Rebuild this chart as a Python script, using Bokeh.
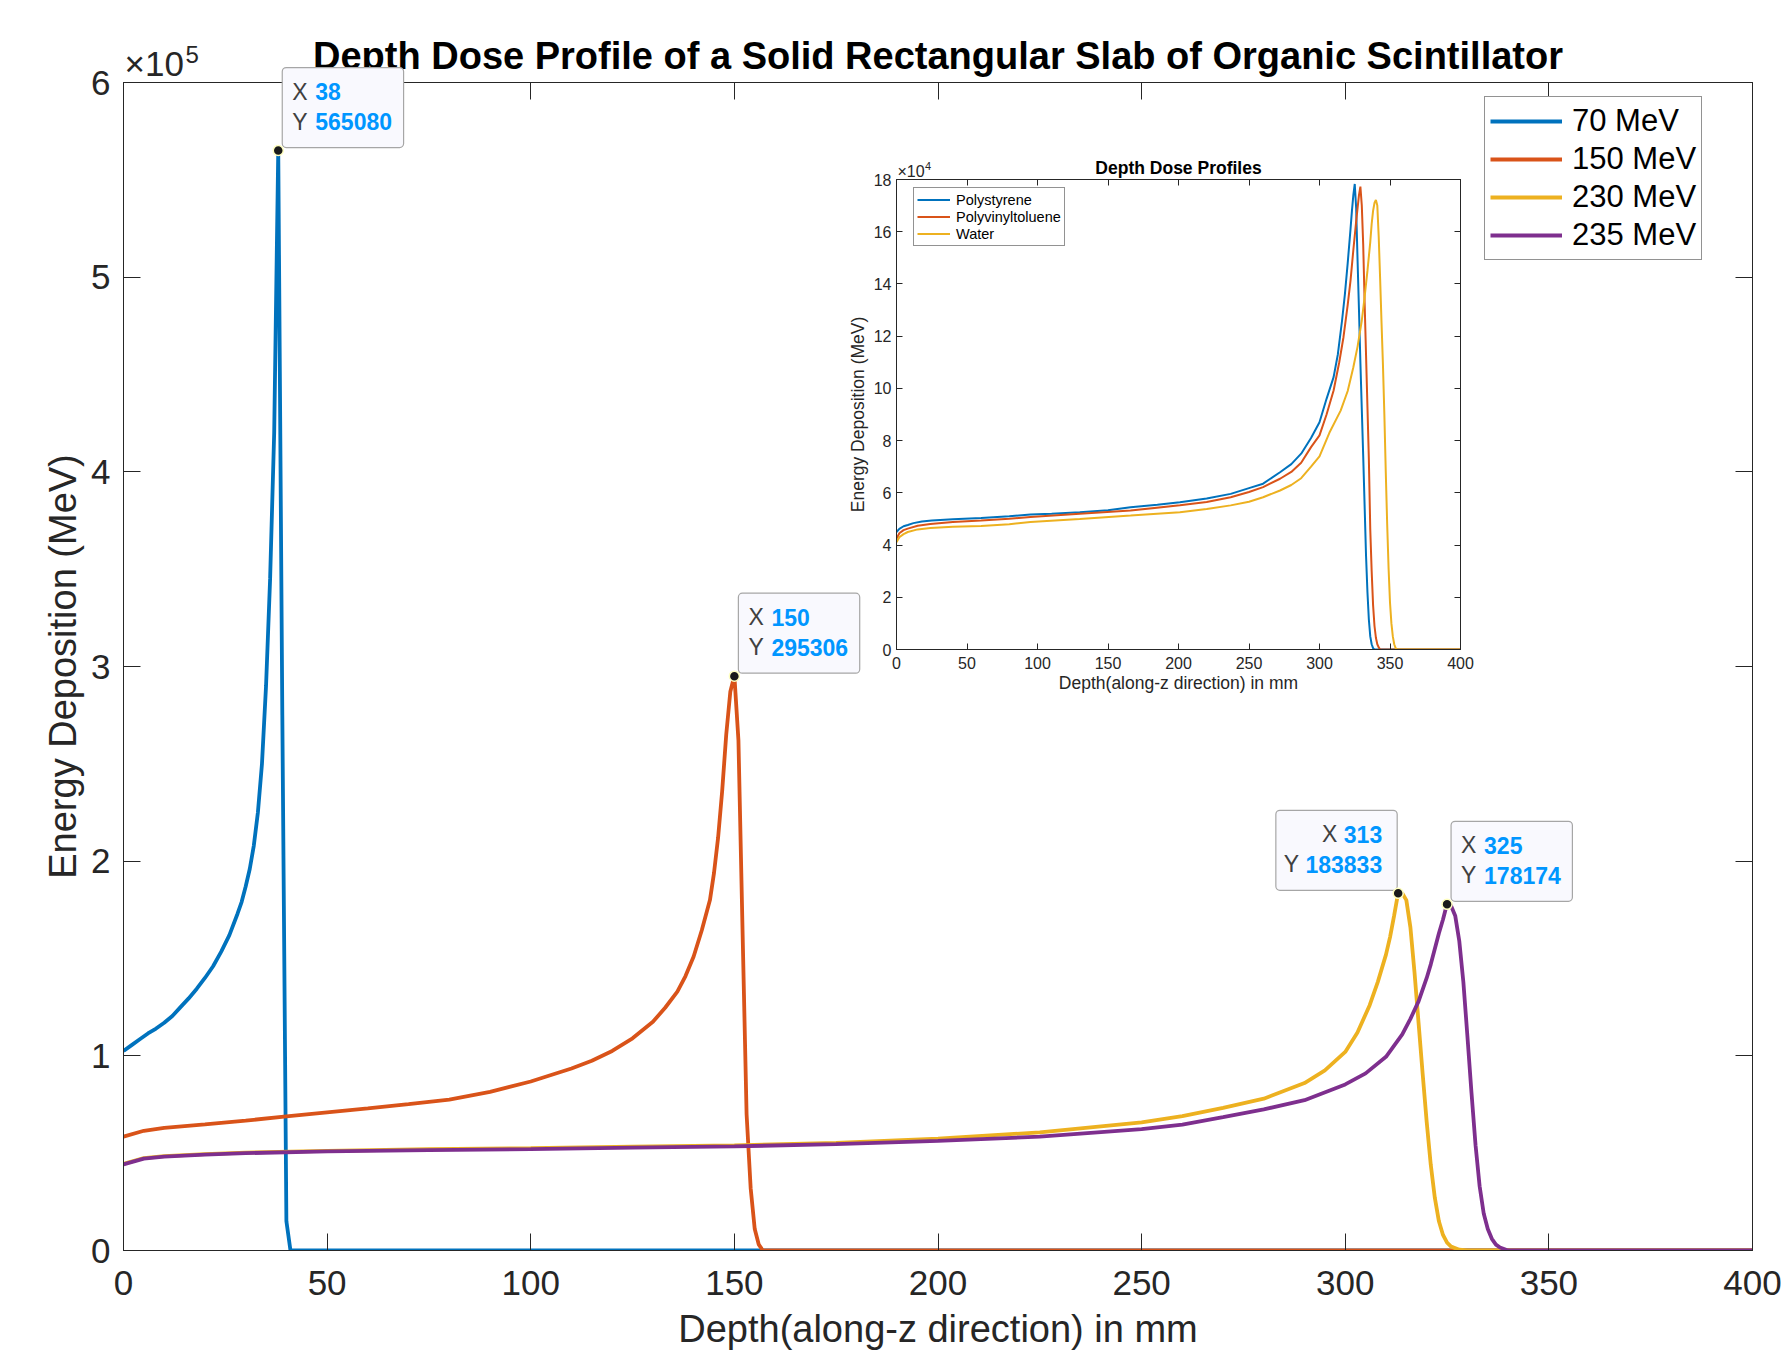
from bokeh.plotting import figure
from bokeh.models import (Range1d, FixedTicker, LinearAxis, Legend, LegendItem,
                          Label, GridBox)
from bokeh.embed import file_html
from bokeh.resources import INLINE

# ---------------- data (main chart) ----------------
energies = ["70 MeV", "150 MeV", "230 MeV", "235 MeV"]

depth_70 = [0, 2, 4, 6, 8, 10, 12, 14, 16, 18, 20, 22, 24, 26, 28, 29, 30, 31, 32, 33,
            34, 35, 36, 37, 38, 39, 40, 41, 400]
dose_70 = [102500, 105500, 108500, 111500, 114000, 117000, 120500, 125000, 129500, 134500,
           140000, 146000, 153500, 162000, 173000, 179000, 187000, 196000, 208000, 225000,
           250000, 290000, 345000, 420000, 565080, 275000, 15000, 0, 0]

depth_150 = [0, 5, 10, 20, 30, 40, 50, 60, 70, 80, 90, 100, 110, 115, 120, 125, 130, 133,
             136, 138, 140, 142, 144, 145, 146, 147, 148, 149, 150, 151, 152, 153, 154, 155,
             156, 157, 400]
dose_150 = [58500, 61500, 63000, 64800, 66700, 68900, 71000, 73000, 75200, 77500, 81500,
            86800, 93500, 97500, 102500, 109000, 117500, 124700, 133000, 141000, 151000,
            164500, 180000, 194000, 212000, 236000, 265000, 287000, 295306, 262000, 165000,
            70000, 32000, 11000, 3000, 0, 0]

depth_230 = [0, 5, 10, 20, 30, 50, 75, 100, 125, 150, 175, 200, 225, 250, 260, 270, 280,
             290, 295, 300, 303, 306, 308, 310, 311, 312, 313, 314, 315, 316, 317, 318, 319,
             320, 321, 322, 323, 324, 325, 326, 328, 330, 400]
dose_230 = [44500, 47500, 48500, 49500, 50300, 51200, 52000, 52600, 53300, 54000, 55300,
            57500, 60700, 65800, 69000, 73300, 78000, 86000, 92500, 102000, 112000, 126000,
            138000, 152000, 161000, 172000, 183833, 183500, 180000, 166000, 143000, 117000,
            91000, 66000, 44000, 27000, 15000, 8000, 4000, 2000, 400, 0, 0]

depth_235 = [0, 5, 10, 20, 30, 50, 75, 100, 125, 150, 175, 200, 225, 250, 260, 270, 280,
             290, 300, 305, 310, 314, 316, 318, 320, 321, 322, 323, 324, 325, 326, 327, 328,
             329, 330, 331, 332, 333, 334, 335, 336, 337, 338, 340, 400]
dose_235 = [44200, 47200, 48200, 49200, 50000, 50900, 51600, 52100, 52800, 53500, 54600,
            56300, 58500, 62300, 64700, 68500, 72500, 77200, 85300, 91000, 99500, 111000,
            119000, 128000, 140000, 147000, 155000, 163000, 170000, 178174, 177000, 172000,
            159000, 138000, 110000, 81000, 54000, 33000, 19000, 11000, 6000, 3000, 1500, 0, 0]

tip_x = [38, 150, 313, 325]
tip_y = [565080, 295306, 183833, 178174]

x_ticks = [0, 50, 100, 150, 200, 250, 300, 350, 400]
y_ticks = [0, 100000, 200000, 300000, 400000, 500000, 600000]
y_tick_labels = ["0", "1", "2", "3", "4", "5", "6"]

# ---------------- data (inset) ----------------
materials = ["Polystyrene", "Polyvinyltoluene", "Water"]

inset_depth_ps = [0, 2, 5, 8, 12, 18, 25, 40, 60, 80, 95, 110, 130, 150, 166, 185, 201, 220,
                  237, 250, 260, 272, 280, 287, 294, 300, 305, 310, 313, 316, 318, 320, 322,
                  323, 324, 325, 326, 327, 328, 329, 330, 331, 332, 333, 334, 335, 336, 337,
                  338, 339, 400]
inset_ps = [45000, 46200, 47200, 47700, 48400, 49000, 49400, 49900, 50400, 51000, 51700,
            52000, 52600, 53300, 54500, 55400, 56400, 57800, 59600, 61800, 63500, 67900,
            71000, 75000, 81000, 87000, 96000, 104300, 113000, 126000, 136000, 148000,
            161000, 168000, 174000, 178300, 169000, 149000, 130000, 110000, 92000, 74000,
            55000, 36000, 22000, 11500, 5000, 2000, 500, 0, 0]

inset_depth_pvt = [0, 2, 5, 8, 15, 24, 40, 60, 80, 95, 130, 166, 201, 220, 237, 250, 260,
                   272, 280, 287, 294, 300, 305, 310, 314, 317, 320, 322, 324, 326, 327, 328,
                   329, 330, 331, 332, 333, 334, 335, 336, 337, 338, 339, 340, 341, 342, 343,
                   400]
inset_pvt = [42400, 44500, 45700, 46300, 47400, 48100, 48800, 49400, 50100, 50700, 52000,
             53200, 55200, 56500, 58300, 60300, 62200, 65400, 68000, 71500, 77500, 82000,
             90000, 99200, 110000, 119600, 132000, 141300, 153000, 164000, 169000, 174000,
             177300, 170000, 155000, 133000, 113000, 93000, 73000, 46000, 30000, 17000, 9000,
             4500, 2000, 800, 0, 0]

inset_depth_w = [0, 2, 5, 8, 15, 24, 40, 60, 80, 95, 130, 166, 201, 220, 237, 250, 260, 272,
                 280, 287, 294, 300, 307, 315, 320, 324, 327, 330, 332, 334, 336, 337, 338,
                 339, 340, 341, 342, 343, 344, 345, 346, 347, 348, 349, 350, 351, 352, 353,
                 354, 355, 400]
inset_w = [41100, 43000, 44200, 45000, 46000, 46500, 47000, 47300, 48000, 48800, 50000,
           51300, 52600, 53800, 55200, 56600, 58300, 60900, 63000, 65600, 70000, 74000,
           83000, 91500, 99000, 108100, 116000, 126000, 135000, 145000, 156000, 163000,
           168000, 171000, 172200, 170000, 158000, 142000, 125000, 109000, 90000, 68000,
           48000, 31000, 18000, 10000, 5000, 2000, 500, 0, 0]

inset_y_ticks = [0, 20000, 40000, 60000, 80000, 100000, 120000, 140000, 160000, 180000]
inset_y_tick_labels = ["0", "2", "4", "6", "8", "10", "12", "14", "16", "18"]

# ---------------- styles / layout constants ----------------
FONT = "Liberation Sans"
AX = "#262626"
COLORS = ["#0072BD", "#D95319", "#EDB120", "#7E2F8E"]
TIP_BG = "#F9F9FE"
TIP_EDGE = "#A6A6A6"
TIP_VAL = "#0096FF"
TIP_TXT = "#404040"

W, H = 1788, 1352
ML, MR, MT, MB = 123, 36, 82, 101          # main frame borders
X0, X1 = 0, 400
Y0, Y1 = 0, 600000

IW, IH = 650, 565                          # inset figure size
IL, IR, IT, IB = 60, 26, 39, 56            # inset frame borders
INSET_LEFT, INSET_TOP = 836, 140           # inset figure position


def style_axis(ax, fs, tick_in, standoff, labels=True):
    ax.axis_line_color = AX
    ax.axis_line_width = 1
    ax.major_tick_line_color = AX
    ax.major_tick_line_width = 1
    ax.major_tick_in = tick_in
    ax.major_tick_out = 0
    ax.minor_tick_line_color = None
    ax.major_label_text_font = FONT
    if labels:
        ax.major_label_text_color = AX
        ax.major_label_standoff = standoff
        ax.major_label_text_font_size = fs
    else:
        ax.major_label_text_color = None
        ax.major_label_standoff = 0
        ax.major_label_text_font_size = "1px"


# ---------------- main figure ----------------
p = figure(width=W, height=H, x_range=Range1d(X0, X1), y_range=Range1d(Y0, Y1),
           output_backend="svg", toolbar_location=None,
           min_border_left=ML, min_border_right=MR, min_border_top=MT, min_border_bottom=MB,
           x_axis_label="Depth(along-z direction) in mm",
           y_axis_label="Energy Deposition (MeV)")
p.xgrid.grid_line_color = None
p.ygrid.grid_line_color = None
p.outline_line_color = AX
p.outline_line_width = 1
p.background_fill_color = "white"
p.border_fill_color = "white"

p.title.text = "Depth Dose Profile of a Solid Rectangular Slab of Organic Scintillator"
p.title.align = "center"
p.title.text_font = FONT
p.title.text_font_size = "38px"
p.title.text_font_style = "bold"
p.title.text_color = "#000000"
p.title.standoff = 12

p.xaxis.ticker = FixedTicker(ticks=x_ticks)
p.yaxis.ticker = FixedTicker(ticks=y_ticks)
p.yaxis.major_label_overrides = {t: s for t, s in zip(y_ticks, y_tick_labels)}
for ax in p.xaxis:
    style_axis(ax, "35px", 17, 20)
    ax.axis_label_standoff = 10
for ax in p.yaxis:
    style_axis(ax, "35px", 17, 13)
    ax.axis_label_standoff = 4
for ax in list(p.xaxis) + list(p.yaxis):
    ax.axis_label_text_font = FONT
    ax.axis_label_text_font_size = "38px"
    ax.axis_label_text_font_style = "normal"
    ax.axis_label_text_color = AX

top_ax = LinearAxis(ticker=FixedTicker(ticks=x_ticks))
style_axis(top_ax, "35px", 17, 0, labels=False)
p.add_layout(top_ax, "above")
right_ax = LinearAxis(ticker=FixedTicker(ticks=y_ticks))
style_axis(right_ax, "35px", 17, 0, labels=False)
p.add_layout(right_ax, "right")

series = [(depth_70, dose_70), (depth_150, dose_150), (depth_230, dose_230), (depth_235, dose_235)]
renderers = []
for (xs, ys), c in zip(series, COLORS):
    renderers.append(p.line(xs, ys, line_color=c, line_width=3.8))

legend = Legend(items=[LegendItem(label=l, renderers=[r]) for l, r in zip(energies, renderers)],
                location=(1361, 990), orientation="vertical")
legend.label_text_font = FONT
legend.label_text_font_size = "31px"
legend.label_text_color = "#000000"
legend.glyph_width = 72
legend.glyph_height = 38
legend.label_height = 38
legend.label_standoff = 10
legend.padding = 5
legend.spacing = 0
legend.margin = 0
legend.border_line_color = AX
legend.border_line_width = 1
legend.background_fill_color = "white"
legend.background_fill_alpha = 1
p.add_layout(legend)

# ---------------- inset figure ----------------
ins = figure(width=IW, height=IH, x_range=Range1d(0, 400), y_range=Range1d(0, 180000),
             output_backend="svg", toolbar_location=None,
             min_border_left=IL, min_border_right=IR, min_border_top=IT, min_border_bottom=IB,
             x_axis_label="Depth(along-z direction) in mm",
             y_axis_label="Energy Deposition (MeV)")
ins.xgrid.grid_line_color = None
ins.ygrid.grid_line_color = None
ins.outline_line_color = AX
ins.outline_line_width = 1
ins.background_fill_alpha = 0
ins.border_fill_alpha = 0

ins.title.text = "Depth Dose Profiles"
ins.title.align = "center"
ins.title.text_font = FONT
ins.title.text_font_size = "17.5px"
ins.title.text_font_style = "bold"
ins.title.text_color = "#000000"
ins.title.standoff = 3

ins.xaxis.ticker = FixedTicker(ticks=x_ticks)
ins.yaxis.ticker = FixedTicker(ticks=inset_y_ticks)
ins.yaxis.major_label_overrides = {t: s for t, s in zip(inset_y_ticks, inset_y_tick_labels)}
for ax in ins.xaxis:
    style_axis(ax, "16px", 6, 7)
    ax.axis_label_standoff = 1
for ax in ins.yaxis:
    style_axis(ax, "16px", 6, 5)
    ax.axis_label_standoff = 3
for ax in list(ins.xaxis) + list(ins.yaxis):
    ax.axis_label_text_font = FONT
    ax.axis_label_text_font_size = "17.5px"
    ax.axis_label_text_font_style = "normal"
    ax.axis_label_text_color = AX

itop = LinearAxis(ticker=FixedTicker(ticks=x_ticks))
style_axis(itop, "16px", 6, 0, labels=False)
ins.add_layout(itop, "above")
iright = LinearAxis(ticker=FixedTicker(ticks=inset_y_ticks))
style_axis(iright, "16px", 6, 0, labels=False)
ins.add_layout(iright, "right")

inset_series = [(inset_depth_ps, inset_ps), (inset_depth_pvt, inset_pvt), (inset_depth_w, inset_w)]
irs = []
for (xs, ys), c in zip(inset_series, COLORS[:3]):
    irs.append(ins.line(xs, ys, line_color=c, line_width=2))

ileg = Legend(items=[LegendItem(label=l, renderers=[r]) for l, r in zip(materials, irs)],
              location=(17, 403), orientation="vertical")
ileg.label_text_font = FONT
ileg.label_text_font_size = "14.5px"
ileg.label_text_color = "#000000"
ileg.glyph_width = 33
ileg.glyph_height = 17
ileg.label_height = 17
ileg.label_standoff = 6
ileg.padding = 3
ileg.spacing = 0
ileg.margin = 0
ileg.border_line_color = AX
ileg.border_line_width = 1
ileg.background_fill_color = "white"
ins.add_layout(ileg)

# ---------------- overlay figure (same data scale as the main chart, frame = whole page) --------
ppx = (W - ML - MR) / (X1 - X0)
ppy = (H - MT - MB) / (Y1 - Y0)
ov = figure(width=W, height=H,
            x_range=Range1d(X0 - ML / ppx, X1 + MR / ppx),
            y_range=Range1d(Y0 - MB / ppy, Y1 + MT / ppy),
            x_axis_type=None, y_axis_type=None, output_backend="svg",
            toolbar_location=None, min_border=0, title=None)
ov.outline_line_color = None
ov.background_fill_alpha = 0
ov.border_fill_alpha = 0
ov.xgrid.grid_line_color = None
ov.ygrid.grid_line_color = None

# exponent of the main y axis
ov.add_layout(Label(x=X0, y=Y1, text="\u00d710", x_offset=1, y_offset=19,
                    text_font=FONT, text_font_size="35px", text_color=AX,
                    text_align="left", text_baseline="middle"))
ov.add_layout(Label(x=X0, y=Y1, text="5", x_offset=62, y_offset=28.5,
                    text_font=FONT, text_font_size="24px", text_color=AX,
                    text_align="left", text_baseline="middle"))

# exponent of the inset y axis (page pixels, y measured from the bottom)
IFX = INSET_LEFT + IL
IFY = H - (INSET_TOP + IT)
ov.add_layout(Label(x=IFX + 1, y=IFY + 8.5, x_units="screen", y_units="screen", text="\u00d710",
                    text_font=FONT, text_font_size="16px", text_color=AX,
                    text_align="left", text_baseline="middle"))
ov.add_layout(Label(x=IFX + 28.5, y=IFY + 14, x_units="screen", y_units="screen", text="4",
                    text_font=FONT, text_font_size="11px", text_color=AX,
                    text_align="left", text_baseline="middle"))

# data tips
TIP_FS = 23
BOX_W, BOX_H = 121, 80
tip_side = ["right", "right", "left", "right"]


def txt_width(s, em):
    return len(s) * em * TIP_FS


for x, y, side in zip(tip_x, tip_y, tip_side):
    sx, sy = str(x), str(y)
    yw = 0.667 * TIP_FS                   # width of the letter "Y"
    th = 1.117 * TIP_FS                   # text box height
    pad_bottom = int(round(29 - th / 2 - 3))
    pad_top = int(round(BOX_H - pad_bottom - th))
    if side == "right":
        box_x = 4
        pad_left = 10
        pad_right = int(round(BOX_W - pad_left - yw))
        align_l = "left"
        letter_x = 14
        value_x = 37
    else:
        box_x = -1
        y_right = -(16 + txt_width(sy, 0.556) + 0.278 * TIP_FS)
        pad_right = int(round(box_x - y_right))
        pad_left = int(round(BOX_W - pad_right - yw))
        align_l = "right"
        letter_x = -(16 + txt_width(sx, 0.556) + 0.278 * TIP_FS)
        value_x = -16
    # the "Y" letter carries the box of the data tip
    ov.add_layout(Label(x=x, y=y, text="Y", x_offset=box_x, y_offset=3,
                        text_font=FONT, text_font_size=f"{TIP_FS}px", text_color=TIP_TXT,
                        text_align=align_l, text_baseline="bottom",
                        padding=dict(left=pad_left, right=pad_right, top=pad_top, bottom=pad_bottom),
                        border_radius=4, background_fill_color=TIP_BG,
                        border_line_color=TIP_EDGE, border_line_width=1.2))
    ov.add_layout(Label(x=x, y=y, text="X", x_offset=letter_x, y_offset=59,
                        text_font=FONT, text_font_size=f"{TIP_FS}px", text_color=TIP_TXT,
                        text_align=align_l, text_baseline="middle"))
    for val, yo in ((sx, 59), (sy, 29)):
        ov.add_layout(Label(x=x, y=y, text=val, x_offset=value_x, y_offset=yo,
                            text_font=FONT, text_font_size=f"{TIP_FS}px", text_color=TIP_VAL,
                            text_font_style="bold", text_align=align_l, text_baseline="middle"))

ov.scatter(tip_x, tip_y, size=10, fill_color="#1A1A1A", line_color="#FFFFC0",
           line_width=1.5, level="overlay")

# ---------------- layout: overlays on a CSS grid ----------------
# zero-size outer tracks keep the three figures on distinct grid lines, so that
# their frames are not aligned with one another
layout = GridBox(children=[(p, 1, 1, 3, 3), (ins, 2, 2, 1, 1), (ov, 0, 0, 5, 5)],
                 rows=["0px", f"{INSET_TOP}px", f"{IH}px", f"{H - INSET_TOP - IH}px", "0px"],
                 cols=["0px", f"{INSET_LEFT}px", f"{IW}px", f"{W - INSET_LEFT - IW}px", "0px"])

open("out.html", "w").write(file_html(layout, INLINE))
